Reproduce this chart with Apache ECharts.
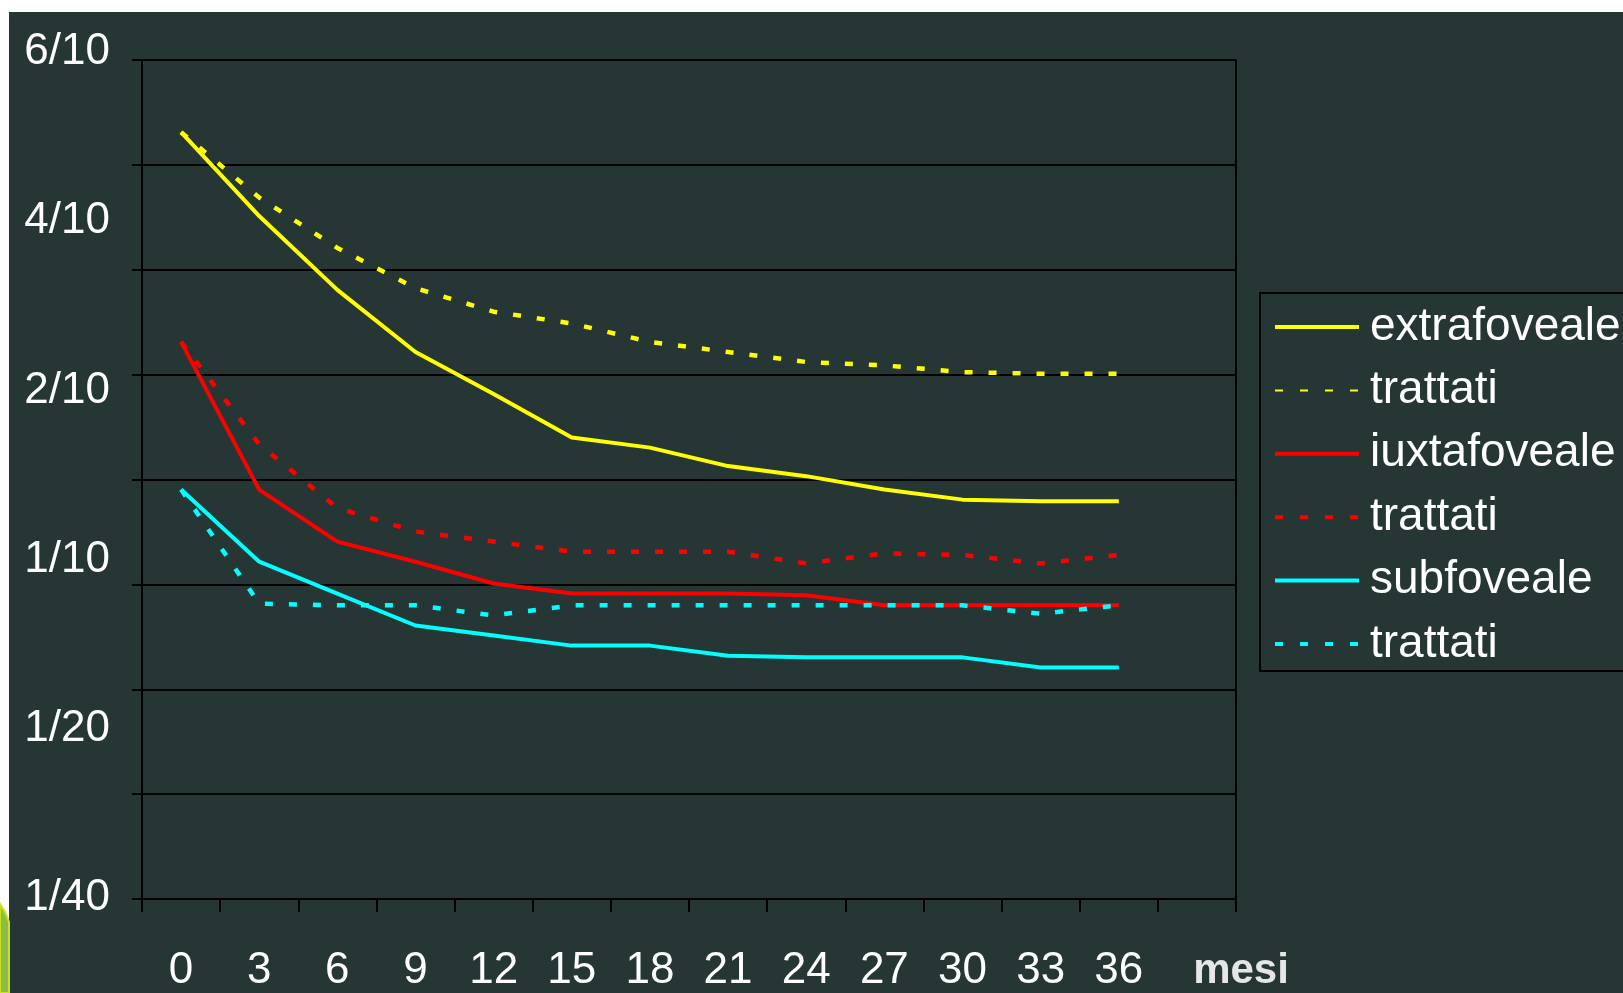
<!DOCTYPE html>
<html>
<head>
<meta charset="utf-8">
<title>Acuità visiva nel tempo</title>
<script src="https://cdn.jsdelivr.net/npm/echarts@6/dist/echarts.min.js"></script>
<style>
  html, body { margin: 0; padding: 0; background: #ffffff; }
  #chart { width: 1623px; height: 993px; }
</style>
</head>
<body>
<div id="chart"></div>
<script>
// Months of follow-up (last band is left empty, as on the original axis)
const months = ['0', '3', '6', '9', '12', '15', '18', '21', '24', '27', '30', '33', '36', ''];

// Visual-acuity scale labels, bottom to top (one step = one label position)
const acuityLabels = ['1/40', '1/20', '1/10', '2/10', '4/10', '6/10'];

// Values expressed in label steps (0 = 1/40 ... 5 = 6/10)
const extrafoveale         = [4.57, 4.07, 3.63, 3.26, 3.01, 2.75, 2.69, 2.58, 2.52, 2.44, 2.38, 2.37, 2.37];
const extrafovealeTrattati = [4.57, 4.18, 3.88, 3.64, 3.50, 3.43, 3.32, 3.26, 3.20, 3.18, 3.14, 3.13, 3.13];
const iuxtafoveale         = [3.32, 2.44, 2.13, 2.01, 1.88, 1.82, 1.82, 1.82, 1.81, 1.75, 1.75, 1.75, 1.75];
const iuxtafovealeTrattati = [3.32, 2.71, 2.33, 2.19, 2.13, 2.07, 2.07, 2.07, 2.00, 2.06, 2.05, 2.00, 2.05];
const subfoveale           = [2.44, 2.01, 1.82, 1.63, 1.57, 1.51, 1.51, 1.45, 1.44, 1.44, 1.44, 1.38, 1.38];
const subfovealeTrattati   = [2.44, 1.76, 1.75, 1.75, 1.69, 1.75, 1.75, 1.75, 1.75, 1.75, 1.75, 1.70, 1.75];

const BG = '#253634';
const FONT = '"Liberation Sans", Arial, sans-serif';
const DASH = [8, 16];

function solid(name, color, data) {
  return {
    name, type: 'line', data, symbol: 'none', smooth: false,
    xAxisIndex: 0, yAxisIndex: 0,
    lineStyle: { color, width: 4, type: 'solid' },
    itemStyle: { color },
    emphasis: { disabled: true }
  };
}
function dashed(name, color, data) {
  return {
    name, type: 'line', data, symbol: 'none', smooth: false,
    xAxisIndex: 0, yAxisIndex: 0,
    lineStyle: { color, width: 4.5, type: DASH },
    itemStyle: { color },
    emphasis: { disabled: true }
  };
}

const chart = echarts.init(document.getElementById('chart'), null, { renderer: 'canvas' });

chart.setOption({
  backgroundColor: BG,
  animation: false,
  textStyle: { fontFamily: FONT },
  grid: [
    { left: 142, top: 60, right: 387, bottom: 93, show: true,
      borderColor: '#000', borderWidth: 2, backgroundColor: 'transparent' },
    // second grid only carries the acuity labels
    { left: 142, top: 52, right: 387, bottom: 95, show: false }
  ],
  xAxis: [
    {
      gridIndex: 0, type: 'category', data: months, boundaryGap: true,
      axisLine: { show: true, lineStyle: { color: '#000', width: 2 } },
      axisTick: { show: true, interval: 0, length: 13, lineStyle: { color: '#000', width: 2 } },
      axisLabel: { interval: 0, color: '#ffffff', fontSize: 44, fontFamily: FONT, margin: 50 },
      splitLine: { show: false }
    },
    { gridIndex: 1, type: 'value', show: false, min: 0, max: 1 }
  ],
  yAxis: [
    {
      gridIndex: 0, type: 'value', position: 'left', min: 0, max: 5, interval: 0.625,
      axisLine: { show: true, lineStyle: { color: '#000', width: 2 } },
      axisTick: { show: true, length: 10, lineStyle: { color: '#000', width: 2 } },
      axisLabel: { show: false },
      splitLine: { show: true, lineStyle: { color: '#000', width: 2 } }
    },
    {
      gridIndex: 1, type: 'value', position: 'left', min: 0, max: 5, interval: 1,
      axisLine: { show: false }, axisTick: { show: false }, splitLine: { show: false },
      axisLabel: {
        color: '#ffffff', fontSize: 44, fontFamily: FONT, margin: 32,
        formatter: v => acuityLabels[Math.round(v)]
      }
    }
  ],
  legend: {
    orient: 'vertical', left: 1260, top: 293,
    padding: [9, 30, 2, 13],
    itemWidth: 84, itemHeight: 14, itemGap: 13.4,
    backgroundColor: BG, borderColor: '#000', borderWidth: 2, borderRadius: 0,
    selectedMode: false,
    itemStyle: { opacity: 0 },
    textStyle: { color: '#ffffff', fontSize: 46, fontFamily: FONT, lineHeight: 50, padding: [0, 0, 0, 6] },
    formatter: name => name.endsWith(' trattati') ? 'trattati' : name,
    data: [
      { name: 'extrafoveale', lineStyle: { width: 4 } },
      { name: 'extrafoveale trattati', lineStyle: { width: 2, type: [8, 17] } },
      { name: 'iuxtafoveale', lineStyle: { width: 4 } },
      { name: 'iuxtafoveale trattati', lineStyle: { width: 4, type: [8, 17] } },
      { name: 'subfoveale', lineStyle: { width: 4 } },
      { name: 'subfoveale trattati', lineStyle: { width: 4, type: [8, 17] } }
    ]
  },
  graphic: [
    { type: 'rect', shape: { x: 0, y: 0, width: 1623, height: 12 }, style: { fill: '#ffffff' }, silent: true },
    { type: 'rect', shape: { x: 0, y: 0, width: 9, height: 993 }, style: { fill: '#ffffff' }, silent: true },
    { type: 'polygon', shape: { points: [[0, 904], [5, 912], [9, 922], [9, 993], [0, 993]] },
      style: { fill: '#8cbd4c', stroke: '#c9e21b', lineWidth: 2 }, silent: true },
    // x-axis unit
    { type: 'text', x: 1241, y: 971, silent: true,
      style: { text: 'mesi', fill: '#e6e6e6', font: 'bold 42px "Liberation Sans", Arial, sans-serif',
               align: 'center', verticalAlign: 'middle' } }
  ],
  series: [
    solid('extrafoveale', '#ffff00', extrafoveale),
    dashed('extrafoveale trattati', '#ffff00', extrafovealeTrattati),
    solid('iuxtafoveale', '#ff0000', iuxtafoveale),
    dashed('iuxtafoveale trattati', '#ff0000', iuxtafovealeTrattati),
    solid('subfoveale', '#00ffff', subfoveale),
    dashed('subfoveale trattati', '#00ffff', subfovealeTrattati)
  ]
});
</script>
</body>
</html>
